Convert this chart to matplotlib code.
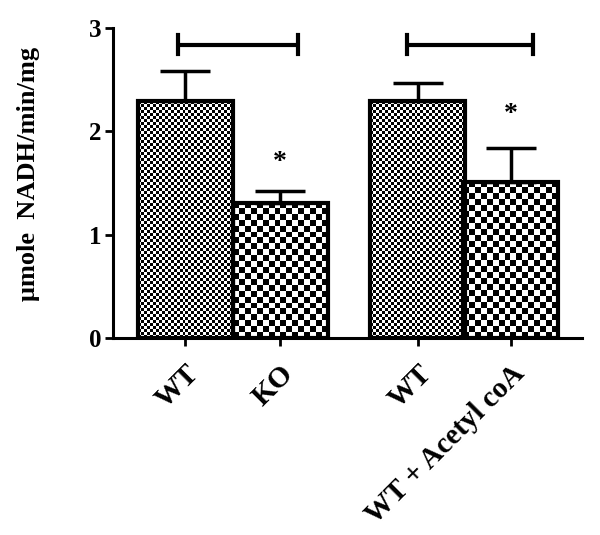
import matplotlib
matplotlib.use('Agg')
import matplotlib.pyplot as plt
import numpy as np

plt.rcParams['font.family'] = ['Liberation Serif', 'DejaVu Serif']
plt.rcParams['font.weight'] = 'bold'

# data
labels = ['WT', 'KO', 'WT', 'WT + Acetyl coA']
xpos = [0, 1, 2.45, 3.43]
means = [2.29, 1.31, 2.29, 1.51]
errs = [0.29, 0.11, 0.18, 0.33]
checker_px = [3, 6, 3, 6]          # checkerboard cell size in pixels
stars = [(1, 1.70), (3.43, 2.16)]
brackets = [(-0.08, 1.19, 2.84), (2.34, 3.66, 2.84)]

fig = plt.figure(figsize=(6, 5.35), dpi=100)
ax = fig.add_axes([113/600, 1 - 338/535, 469/600, 310/535])

bars = ax.bar(xpos, means, width=1.0, facecolor='none', edgecolor='black',
              linewidth=3, zorder=3)
ax.errorbar(xpos, means, yerr=[np.zeros(len(errs)), errs], fmt='none',
            ecolor='black', elinewidth=2.5, capsize=18, capthick=2.5, zorder=2)

ax.set_xlim(-0.76, 4.18)
ax.set_ylim(0, 3)

# checkerboard fill, clipped to each bar
for bar, cell in zip(bars, checker_px):
    x0, y0 = bar.get_x(), bar.get_y()
    w, h = bar.get_width(), bar.get_height()
    p0 = ax.transData.transform((x0, y0))
    p1 = ax.transData.transform((x0 + w, y0 + h))
    nx = max(1, int(round((p1[0] - p0[0]) / cell)))
    ny = max(1, int(round((p1[1] - p0[1]) / cell)))
    board = (np.add.outer(np.arange(ny), np.arange(nx)) % 2).astype(float)
    im = ax.imshow(board, cmap='gray', extent=(x0, x0 + w, y0, y0 + h),
                   aspect='auto', interpolation='nearest', origin='lower',
                   zorder=1)
    im.set_clip_path(bar)

ax.set_xlim(-0.76, 4.18)
ax.set_ylim(0, 3)

for x, y in stars:
    ax.text(x, y, '*', ha='center', va='center', fontsize=20, fontweight='bold')

for xa, xb, y in brackets:
    ax.plot([xa, xb], [y, y], color='black', lw=3, solid_capstyle='butt')
    ax.plot([xa, xa], [y - 0.09, y + 0.09], color='black', lw=3)
    ax.plot([xb, xb], [y - 0.09, y + 0.09], color='black', lw=3)

for s in ['top', 'right']:
    ax.spines[s].set_visible(False)
for s in ['left', 'bottom']:
    ax.spines[s].set_linewidth(2.2)

ax.set_yticks([0, 1, 2, 3])
ax.set_yticklabels(['0', '1', '2', '3'], fontsize=18, fontweight='bold')
ax.set_xticks(xpos)
ax.set_xticklabels(labels, rotation=45, ha='right', rotation_mode='anchor',
                   fontsize=21, fontweight='bold')
ax.tick_params(axis='both', width=2, length=6, pad=2)
ax.tick_params(axis='x', pad=10)

ax.set_ylabel('μmole  NADH/min/mg', fontsize=19, fontweight='bold')
ax.yaxis.set_label_coords(-0.155, 0.53)

fig.savefig('out.png', dpi=100)
